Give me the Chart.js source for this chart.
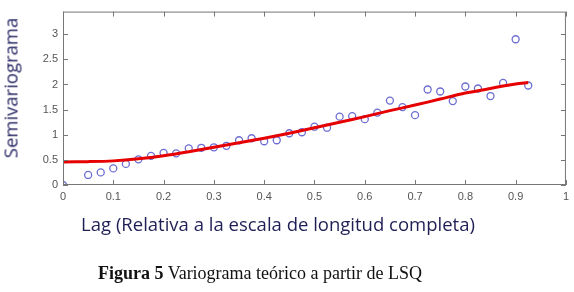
<!DOCTYPE html>
<html>
<head>
  <script src="https://cdn.jsdelivr.net/npm/chart.js@4.4.1/dist/chart.umd.min.js"></script>
  <style>
    body { margin: 0; background: #fff; }
    #wrap { position: relative; width: 574px; height: 292px; }
    #ytitle { position: absolute; left: 10px; top: 88px; transform: translate(-50%, -50%) rotate(-90deg);
      font: 18.5px "Open Sans"; color: #2a2a66; white-space: nowrap; }
    #xtitle { position: absolute; left: 278px; top: 223px; transform: translate(-50%, -50%);
      font: 18.5px "Open Sans"; color: #1f1f55; white-space: nowrap; }
    #caption { position: absolute; left: 260px; top: 273px; transform: translate(-50%, -50%);
      font: 18px "Liberation Serif"; color: #111; white-space: nowrap; }
  </style>
</head>
<body>
<div id="wrap">
  <canvas id="vario" width="574" height="292"></canvas>
  <div id="ytitle">Semivariograma</div>
  <div id="xtitle">Lag (Relativa a la escala de longitud completa)</div>
  <div id="caption"><b>Figura 5</b> Variograma teórico a partir de LSQ</div>
</div>

<script>
// experimental semivariogram points
var lagPoints = [0, 0.05, 0.075, 0.1, 0.125, 0.15, 0.175, 0.2, 0.225, 0.25, 0.275, 0.3, 0.325, 0.35, 0.375,
  0.4, 0.425, 0.45, 0.475, 0.5, 0.525, 0.55, 0.575, 0.6, 0.625, 0.65, 0.675, 0.7, 0.725, 0.75, 0.775,
  0.8, 0.825, 0.85, 0.875, 0.9, 0.925];
var gammaPoints = [0, 0.2, 0.25, 0.33, 0.42, 0.51, 0.58, 0.64, 0.63, 0.73, 0.74, 0.75, 0.78, 0.89, 0.93,
  0.87, 0.89, 1.03, 1.05, 1.16, 1.14, 1.36, 1.37, 1.31, 1.44, 1.68, 1.55, 1.39, 1.90, 1.86, 1.67,
  1.96, 1.92, 1.77, 2.03, 2.90, 1.98];
// fitted model curve
var lagModel = [0, 0.05, 0.1, 0.15, 0.2, 0.25, 0.3, 0.35, 0.4, 0.45, 0.5, 0.55, 0.6, 0.65, 0.7, 0.75,
  0.8, 0.85, 0.875, 0.9, 0.925];
var gammaModel = [0.46, 0.465, 0.48, 0.52, 0.58, 0.66, 0.75, 0.84, 0.93, 1.03, 1.14, 1.25, 1.36, 1.48,
  1.59, 1.71, 1.83, 1.92, 1.97, 2.01, 2.04];
var xTicks = [0, 0.1, 0.2, 0.3, 0.4, 0.5, 0.6, 0.7, 0.8, 0.9, 1];
var yTicks = [0, 0.5, 1, 1.5, 2, 2.5, 3];

function toXY(xs, ys) {
  return xs.map(function(x, i) { return {x: x, y: ys[i]}; });
}

// inward ticks on all four sides plus box
var boxTicks = {
  id: "boxTicks",
  afterDraw: function(chart) {
    var c = chart.ctx, a = chart.chartArea, sx = chart.scales.x, sy = chart.scales.y;
    c.save();
    c.strokeStyle = "#777";
    c.lineWidth = 1;
    c.strokeRect(a.left + 0.5, a.top + 0.5, a.right - a.left - 1, a.bottom - a.top - 1);
    c.beginPath();
    xTicks.forEach(function(v) {
      var px = Math.round(sx.getPixelForValue(v)) + 0.5;
      c.moveTo(px, a.bottom); c.lineTo(px, a.bottom - 5);
      c.moveTo(px, a.top); c.lineTo(px, a.top + 5);
    });
    yTicks.forEach(function(v) {
      var py = Math.round(sy.getPixelForValue(v)) + 0.5;
      c.moveTo(a.left, py); c.lineTo(a.left + 5, py);
      c.moveTo(a.right, py); c.lineTo(a.right - 5, py);
    });
    c.stroke();
    c.restore();
  }
};

function plainLabel(v) { return String(v); }

var ctx = document.getElementById("vario").getContext("2d");
new Chart(ctx, {
  type: "scatter",
  data: {
    datasets: [{
      label: "experimental",
      data: toXY(lagPoints, gammaPoints),
      pointStyle: "circle",
      pointRadius: 3.5,
      pointBorderWidth: 1.3,
      pointBorderColor: "#6c6cd2",
      pointBackgroundColor: "rgba(0,0,0,0)",
      order: 2
    }, {
      label: "modelo",
      data: toXY(lagModel, gammaModel),
      showLine: true,
      borderColor: "#e60000",
      borderWidth: 3,
      pointRadius: 0,
      tension: 0.3,
      order: 1
    }]
  },
  options: {
    responsive: false,
    animation: false,
    layout: { padding: { left: 0, right: 8, top: 8, bottom: 0 } },
    plugins: { legend: { display: false }, tooltip: { enabled: false } },
    scales: {
      x: {
        type: "linear", min: 0, max: 1,
        afterFit: function(s) { s.height = 107; },
        afterBuildTicks: function(s) { s.ticks = xTicks.map(function(v) { return {value: v}; }); },
        grid: { display: false, drawTicks: false },
        border: { display: false },
        ticks: { padding: 5, color: "#555", font: { family: "Liberation Sans", size: 11 },
          maxRotation: 0, autoSkip: false, callback: plainLabel }
      },
      y: {
        type: "linear", min: 0, max: 3.45,
        afterFit: function(s) { s.width = 63; },
        afterBuildTicks: function(s) { s.ticks = yTicks.map(function(v) { return {value: v}; }); },
        grid: { display: false, drawTicks: false },
        border: { display: false },
        ticks: { padding: 5, color: "#555", font: { family: "Liberation Sans", size: 11 },
          callback: plainLabel }
      }
    }
  },
  plugins: [boxTicks]
});
</script>
</body>
</html>
